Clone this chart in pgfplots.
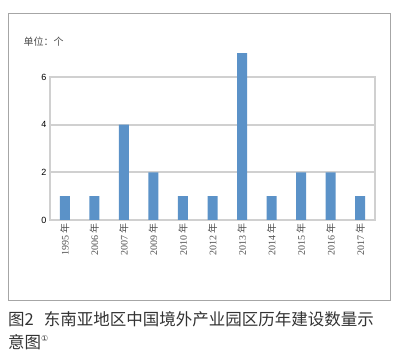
\documentclass[border=0pt]{standalone}
\usepackage{pgfplots}
\pgfplotsset{compat=1.18}
\usepackage{fontspec}
\setmainfont{Liberation Serif}
\newfontfamily\cjk{Noto Sans CJK SC}
\newfontfamily\sans{Liberation Sans}
\newfontfamily\dejavu{DejaVu Sans}
\definecolor{barblue}{RGB}{91,146,200}
\definecolor{gridgray}{RGB}{208,208,208}
\definecolor{txtgray}{RGB}{80,80,80}
\newcommand{\yr}[1]{#1\,{\cjk 年}}
\begin{document}
\begin{tikzpicture}[x=1pt,y=1pt]
\path[use as bounding box] (0,0) rectangle (408,353);
\draw[gray!70, line width=0.9pt] (8,53) rectangle (390,340);
\node[anchor=west, font=\cjk\fontsize{10}{12}\selectfont, text=txtgray] at (20,311) {单位：个};
\begin{axis}[
  at={(50pt,133pt)}, anchor=south west,
  scale only axis, width=325pt, height=143pt,
  xmin=-0.5, xmax=10.5, ymin=0, ymax=6,
  clip=false,
  ytick={0,2,4,6},
  xtick={0,...,10},
  xticklabels={\yr{1995},\yr{2006},\yr{2007},\yr{2009},\yr{2010},\yr{2012},\yr{2013},\yr{2014},\yr{2015},\yr{2016},\yr{2017}},
  xticklabel style={rotate=90, anchor=east, font=\fontsize{10}{11}\selectfont, text=txtgray},
  yticklabel style={font=\sans\fontsize{9}{10}\selectfont, text=black},
  /pgf/number format/assume math mode=true,
  major tick length=0pt,
  ymajorgrids, grid style={gridgray, line width=2.2pt},
  axis line style={gridgray, line width=2.2pt},
]
\addplot[ybar, bar width=10pt, fill=barblue, draw=none] coordinates {
(0,1) (1,1) (2,4) (3,2) (4,1) (5,1) (6,7) (7,1) (8,2) (9,2) (10,1)};
\end{axis}
\node[anchor=base west, font=\cjk\fontsize{16.5}{18}\selectfont, text=black!80, inner sep=0pt] at (8,27) {图2\hspace{10pt}东南亚地区中国境外产业园区历年建设数量示};
\node[anchor=base west, font=\cjk\fontsize{16.5}{18}\selectfont, text=black!80, inner sep=0pt] at (8,4) {意图\raisebox{7pt}{\dejavu\fontsize{8}{9}\selectfont ①}};
\end{tikzpicture}
\end{document}
